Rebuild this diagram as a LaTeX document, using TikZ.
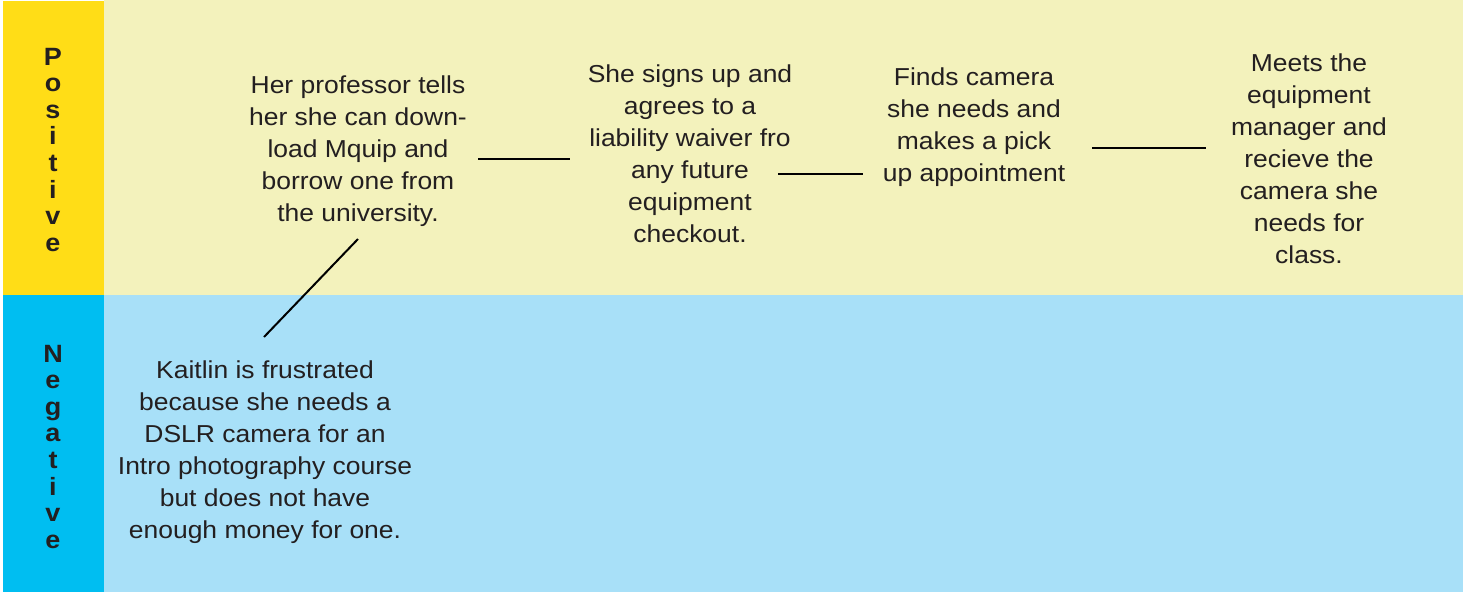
\documentclass[tikz,border=0pt]{standalone}
\usepackage{fontspec}
\setmainfont{Liberation Sans}[FakeStretch=1.08]
\definecolor{colY}{HTML}{FFDD17}
\definecolor{colLY}{HTML}{F3F2BC}
\definecolor{colB}{HTML}{00BEF1}
\definecolor{colLB}{HTML}{A8E0F8}
\definecolor{ink}{HTML}{231F20}
\newcommand{\bodyfnt}{\fontsize{24.5}{32}\selectfont}
\newcommand{\lblfnt}{\fontsize{25}{26.65}\selectfont\bfseries}
\newcommand{\lines}[1]{\begin{tabular}[t]{@{}c@{}}#1\end{tabular}}
\tikzset{
  txt/.style={anchor=base, inner sep=0pt, text=ink, font=\bodyfnt},
  lbl/.style={anchor=base, inner sep=0pt, text=ink, font=\lblfnt},
  conn/.style={line width=2pt, black}
}
\begin{document}
\begin{tikzpicture}[x=1pt,y=-1pt]
\useasboundingbox (0,0) rectangle (1463,592);
% backgrounds
\fill[white] (0,0) rectangle (1463,592);
\fill[colLY] (104,0) rectangle (1463,295);
\fill[colLB] (104,295) rectangle (1463,592);
\fill[colY] (3,1) rectangle (104,295);
\fill[colB] (3,295) rectangle (104,592);
% row labels
\node[lbl] (pos) at (53,65) {\lines{P\\o\\s\\i\\t\\i\\v\\e}};
\node[lbl] (neg) at (53,362) {\lines{N\\e\\g\\a\\t\\i\\v\\e}};
% steps
\node[txt] (a) at (358,93) {\lines{Her professor tells\\her she can down-\\load Mquip and\\borrow one from\\the university.}};
\node[txt] (b) at (690,82) {\lines{She signs up and\\agrees to a\\liability waiver fro\\any future\\equipment\\checkout.}};
\node[txt] (c) at (974,85) {\lines{Finds camera\\she needs and\\makes a pick\\up appointment}};
\node[txt] (d) at (1309,71) {\lines{Meets the\\equipment\\manager and\\recieve the\\camera she\\needs for\\class.}};
\node[txt] (e) at (265,378) {\lines{Kaitlin is frustrated\\because she needs a\\DSLR camera for an\\Intro photography course\\but does not have\\enough money for one.}};
% connector end points
\coordinate (e1) at (264,337);
\coordinate (a1) at (358,239);
\coordinate (a2) at (478,159);
\coordinate (b1) at (570,159);
\coordinate (b2) at (778,174);
\coordinate (c1) at (863,174);
\coordinate (c2) at (1092,148);
\coordinate (d1) at (1206,148);
\draw[conn] (e1) -- (a1);
\draw[conn] (a2) -- (b1);
\draw[conn] (b2) -- (c1);
\draw[conn] (c2) -- (d1);
\end{tikzpicture}
\end{document}
